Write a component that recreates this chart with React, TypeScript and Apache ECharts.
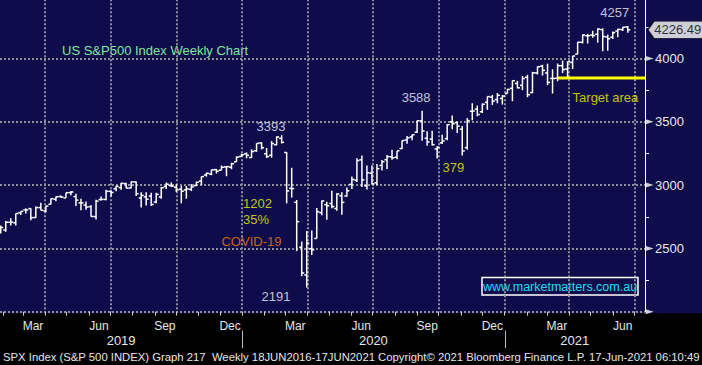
import React, { useEffect, useRef } from 'react';
import * as echarts from 'echarts';

// ---- Weekly OHLC (S&P 500), week-ending Friday ----
const WEEK_ENDING = [
  '2019-01-25','2019-02-01','2019-02-08','2019-02-15','2019-02-22','2019-03-01','2019-03-08','2019-03-15','2019-03-22','2019-03-29',
  '2019-04-05','2019-04-12','2019-04-19','2019-04-26','2019-05-03','2019-05-10','2019-05-17','2019-05-24','2019-05-31','2019-06-07',
  '2019-06-14','2019-06-21','2019-06-28','2019-07-05','2019-07-12','2019-07-19','2019-07-26','2019-08-02','2019-08-09','2019-08-16',
  '2019-08-23','2019-08-30','2019-09-06','2019-09-13','2019-09-20','2019-09-27','2019-10-04','2019-10-11','2019-10-18','2019-10-25',
  '2019-11-01','2019-11-08','2019-11-15','2019-11-22','2019-11-29','2019-12-06','2019-12-13','2019-12-20','2019-12-27','2020-01-03',
  '2020-01-10','2020-01-17','2020-01-24','2020-01-31','2020-02-07','2020-02-14','2020-02-21','2020-02-28','2020-03-06','2020-03-13',
  '2020-03-20','2020-03-27','2020-04-03','2020-04-10','2020-04-17','2020-04-24','2020-05-01','2020-05-08','2020-05-15','2020-05-22',
  '2020-05-29','2020-06-05','2020-06-12','2020-06-19','2020-06-26','2020-07-03','2020-07-10','2020-07-17','2020-07-24','2020-07-31',
  '2020-08-07','2020-08-14','2020-08-21','2020-08-28','2020-09-04','2020-09-11','2020-09-18','2020-09-25','2020-10-02','2020-10-09',
  '2020-10-16','2020-10-23','2020-10-30','2020-11-06','2020-11-13','2020-11-20','2020-11-27','2020-12-04','2020-12-11','2020-12-18',
  '2020-12-25','2021-01-01','2021-01-08','2021-01-15','2021-01-22','2021-01-29','2021-02-05','2021-02-12','2021-02-19','2021-02-26',
  '2021-03-05','2021-03-12','2021-03-19','2021-03-26','2021-04-02','2021-04-09','2021-04-16','2021-04-23','2021-04-30','2021-05-07',
  '2021-05-14','2021-05-21','2021-05-28','2021-06-04','2021-06-11','2021-06-18',
];
const OPEN = [
  2657.9,2644.9,2706.5,2702.0,2780.7,2804.4,2814.4,2743.7,2822.6,2796.0,
  2848.6,2888.3,2909.9,2898.8,2940.6,2908.9,2859.3,2841.9,2830.0,2751.5,
  2885.8,2886.8,2951.4,2971.4,2979.8,3012.1,2977.0,3024.5,2898.1,2907.1,
  2913.5,2866.7,2906.3,2988.4,2996.4,2983.5,2967.1,2962.3,2966.2,2996.5,
  3032.1,3079.0,3087.0,3122.0,3117.4,3143.9,3141.9,3183.6,3226.1,3247.2,
  3217.6,3271.1,3333.1,3247.2,3235.7,3318.3,3369.0,3257.6,2974.3,2863.9,
  2508.6,2290.7,2498.1,2578.3,2782.5,2845.6,2854.7,2815.0,2915.5,2914.0,
  3005.7,3038.8,3199.9,2993.8,3094.4,3018.6,3155.3,3200.5,3224.3,3219.8,
  3288.3,3356.0,3380.9,3418.1,3507.4,3369.8,3363.6,3285.6,3333.9,3367.3,
  3500.0,3493.5,3441.4,3296.2,3583.0,3600.2,3579.3,3653.8,3694.7,3675.3,
  3684.3,3723.0,3764.6,3803.1,3788.0,3851.7,3731.2,3885.6,3939.6,3885.6,
  3842.5,3844.4,3943.0,3916.5,3969.3,4034.4,4128.0,4179.8,4185.1,4192.0,
  4228.3,4169.9,4168.6,4216.5,4228.6,4248.9,
];
const HIGH = [
  2681.8,2716.7,2738.0,2775.7,2794.2,2816.9,2816.9,2830.7,2860.3,2836.0,
  2893.4,2910.5,2918.0,2940.0,2954.1,2931.3,2892.2,2871.0,2840.5,2884.9,
  2910.6,2964.2,2960.0,2995.8,3017.8,3018.8,3028.0,3028.0,2943.3,2943.3,
  2939.1,2940.4,2985.9,3021.0,3022.0,3008.0,2993.3,2993.3,3008.3,3027.4,
  3066.9,3097.8,3120.5,3127.6,3154.3,3150.6,3176.3,3225.6,3247.9,3258.1,
  3282.0,3329.9,3337.8,3293.0,3348.0,3385.1,3393.5,3259.8,3136.7,2882.6,
  2553.9,2637.0,2641.4,2818.6,2879.2,2869.0,2954.9,2934.9,2944.3,2980.3,
  3068.7,3211.7,3233.1,3155.5,3154.9,3165.8,3198.6,3238.3,3279.3,3272.0,
  3352.5,3387.9,3400.0,3509.4,3588.1,3425.6,3428.9,3306.9,3397.2,3482.3,
  3549.9,3502.4,3466.5,3529.1,3646.0,3628.5,3645.1,3699.2,3712.4,3726.7,
  3711.2,3760.2,3826.7,3823.6,3861.5,3870.9,3894.6,3937.2,3950.4,3959.0,
  3915.0,3960.3,3983.9,3978.2,4020.6,4129.5,4191.3,4194.2,4218.8,4238.0,
  4238.0,4188.7,4213.4,4234.1,4249.7,4257.2,
];
const LOW = [
  2617.3,2631.6,2681.8,2681.8,2764.6,2775.1,2722.3,2741.3,2800.4,2785.0,
  2848.6,2873.3,2898.8,2898.2,2919.6,2835.0,2801.4,2805.5,2750.5,2728.8,
  2878.0,2880.0,2910.0,2952.2,2963.4,2975.0,2975.0,2914.1,2822.1,2839.6,
  2835.0,2856.0,2891.9,2969.4,2985.2,2946.0,2856.0,2892.7,2952.9,2991.6,
  3000.0,3066.9,3077.6,3091.4,3117.4,3070.3,3125.0,3183.6,3223.4,3211.5,
  3214.6,3263.6,3281.5,3214.6,3216.9,3315.2,3328.5,2855.8,2901.5,2478.9,
  2280.5,2191.9,2447.5,2578.3,2761.5,2727.1,2816.8,2797.9,2766.6,2908.0,
  2969.8,3025.2,2984.5,2965.7,3004.6,3000.7,3115.3,3127.7,3200.8,3204.1,
  3284.5,3327.0,3354.7,3410.9,3349.6,3310.5,3313.5,3209.5,3323.9,3354.7,
  3441.4,3412.0,3233.9,3279.7,3511.9,3543.8,3569.7,3594.4,3633.4,3645.8,
  3636.5,3723.0,3662.7,3764.2,3749.6,3694.1,3725.6,3874.5,3865.0,3789.5,
  3723.3,3820.0,3885.6,3853.5,3917.1,4034.4,4118.4,4118.6,4164.0,4125.0,
  4056.9,4061.4,4154.3,4167.6,4217.7,4202.5,
];
const CLOSE = [
  2664.8,2706.5,2707.9,2775.6,2792.7,2803.7,2743.1,2822.5,2800.7,2834.4,
  2892.7,2907.4,2905.0,2939.9,2945.6,2881.4,2859.5,2826.1,2752.1,2873.3,
  2887.0,2950.5,2941.8,2990.4,3013.8,2976.6,3025.9,2932.1,2918.7,2888.7,
  2847.1,2926.5,2978.7,3007.4,2992.1,2961.8,2952.0,2970.3,2986.2,3022.6,
  3066.9,3093.1,3120.5,3110.3,3141.0,3145.9,3168.8,3221.2,3240.0,3234.9,
  3265.4,3329.6,3295.5,3225.5,3327.7,3380.2,3337.8,2954.2,2972.4,2711.0,
  2304.9,2541.5,2488.7,2789.8,2874.6,2836.7,2830.7,2929.8,2863.7,2955.5,
  3044.3,3193.9,3041.3,3097.7,3009.1,3130.0,3185.0,3224.7,3215.6,3271.1,
  3351.3,3372.9,3397.2,3508.0,3427.0,3341.0,3319.5,3298.5,3348.4,3477.1,
  3483.8,3465.4,3270.0,3509.4,3585.2,3557.5,3638.4,3699.1,3663.5,3709.4,
  3703.1,3756.1,3824.7,3768.3,3841.5,3714.2,3886.8,3934.8,3906.7,3811.2,
  3841.9,3943.3,3913.1,3974.5,4019.9,4128.8,4185.5,4180.2,4181.2,4232.6,
  4173.9,4155.9,4204.1,4229.9,4247.4,4226.49,
];

const Y_TICKS = [2000, 2500, 3000, 3500, 4000];
const MONTH_NAMES = ['Jan','Feb','Mar','Apr','May','Jun','Jul','Aug','Sep','Oct','Nov','Dec'];
const TARGET_LEVEL = 3845;
const TARGET_FROM = '2021-03-12';
const TITLE = 'US S&P500 Index Weekly Chart';
const WATERMARK = 'www.marketmatters.com.au';
const FOOTER = 'SPX Index (S&P 500 INDEX) Graph 217  Weekly 18JUN2016-17JUN2021 Copyright\u00A9 2021 Bloomberg Finance L.P. 17-Jun-2021 06:10:49';

const FONT = "'Liberation Sans', Arial, sans-serif";
const NAVY = '#0e0c4a';
const GRID_C = '#8e8e9c';
const DAY = 86400000;
const ts = (s: string) => { const [y, m, d] = s.split('-').map(Number); return Date.UTC(y, m - 1, d); };
const AXIS_START = ts('2019-01-28');
const AXIS_END = ts('2021-07-16');
const BAR_SHIFT = 4 * DAY; // weekly bars are drawn at the end of their period

const monthStarts: number[] = [];
const quarterStarts: number[] = [];
const monthLabelVals: number[] = [];
for (let y = 2019; y <= 2021; y++) {
  for (let m = 0; m < 12; m++) {
    const t = Date.UTC(y, m, 1);
    if (t > AXIS_START && t < AXIS_END) {
      monthStarts.push(t);
      if (m % 3 === 0) quarterStarts.push(t);
    }
    const mid = Date.UTC(y, m, 15);
    if (m % 3 === 2 && mid > AXIS_START && mid < AXIS_END) monthLabelVals.push(mid);
  }
}
const yearStarts = [2020, 2021].map((y) => Date.UTC(y, 0, 1));
const yearMids = [2019, 2020, 2021].map((y) => {
  const a = Math.max(Date.UTC(y, 0, 1), AXIS_START);
  const b = Math.min(Date.UTC(y + 1, 0, 1), AXIS_END);
  return (a + b) / 2;
});

export default function App() {
  const ref = useRef<HTMLDivElement>(null);
  useEffect(() => {
    if (!ref.current) return;
    const chart = echarts.init(ref.current, undefined, { renderer: 'svg' });
    const times = WEEK_ENDING.map((d) => ts(d) + BAR_SHIFT);
    const bars = times.map((t, i) => [t, OPEN[i], HIGH[i], LOW[i], CLOSE[i]]);

    const idxWhere = (pred: (i: number) => boolean, arr: number[], better: (a: number, b: number) => boolean) => {
      let best = -1;
      for (let i = 0; i < arr.length; i++) if (pred(i) && (best < 0 || better(arr[i], arr[best]))) best = i;
      return best;
    };
    const tsOf = (i: number) => ts(WEEK_ENDING[i]);
    const iTop = idxWhere(() => true, HIGH, (a, b) => a > b);
    const iPeak = idxWhere((i) => tsOf(i) < ts('2020-03-01'), HIGH, (a, b) => a > b);
    const iTrough = idxWhere(() => true, LOW, (a, b) => a < b);
    const iSep = idxWhere((i) => tsOf(i) > ts('2020-07-01') && tsOf(i) < ts('2020-10-31'), HIGH, (a, b) => a > b);
    const iDip = idxWhere((i) => tsOf(i) > ts('2020-09-05') && tsOf(i) < ts('2020-10-10'), LOW, (a, b) => a < b);
    const fl = Math.floor;
    const drop = fl(HIGH[iPeak]) - fl(LOW[iTrough]);
    const pct = Math.round((drop / fl(HIGH[iPeak])) * 100);
    const pull = fl(HIGH[iSep]) - fl(LOW[iDip]);

    const WHITE_T = '#eef2ff';
    const YEL = '#f4f400';
    const ann = (value: number[], text: string, color: string, offset: number[], align = 'center') => ({
      value,
      label: { show: true, formatter: text, color, offset, align, verticalAlign: 'middle', position: 'inside', fontSize: 13, fontFamily: FONT },
    });
    const annotations = [
      ann([times[iTop], HIGH[iTop]], String(fl(HIGH[iTop])), WHITE_T, [-13, -13]),
      ann([times[iSep], HIGH[iSep]], String(fl(HIGH[iSep])), WHITE_T, [-6, -13.6]),
      ann([times[iPeak], HIGH[iPeak]], String(fl(HIGH[iPeak])), WHITE_T, [-10.6, -8.3]),
      ann([times[iTrough], LOW[iTrough]], String(fl(LOW[iTrough])), WHITE_T, [-30.7, 8.6]),
      ann([times[iPeak], HIGH[iPeak]], String(drop), YEL, [-38.6, 68.7], 'left'),
      ann([times[iPeak], HIGH[iPeak]], pct + '%', YEL, [-38.6, 84.7], 'left'),
      ann([times[iPeak], HIGH[iPeak]], 'COVID-19', '#f07c10', [-30.2, 106.7]),
      ann([times[iDip], LOW[iDip]], String(pull), YEL, [16.3, 9.4]),
      ann([ts(TARGET_FROM) + BAR_SHIFT, TARGET_LEVEL], 'Target area', YEL, [15, 19], 'left'),
    ];

    const lastClose = CLOSE[CLOSE.length - 1];
    const dotted = { color: GRID_C, type: [2, 2] as any, width: 2 };

    const xBase = { type: 'value', min: AXIS_START, max: AXIS_END, position: 'bottom', gridIndex: 0 };

    chart.setOption({
      animation: false,
      backgroundColor: '#000000',
      grid: { left: 0, right: 57, top: -4.8, bottom: 53.3, containLabel: false, outerBoundsMode: 'none' },
      xAxis: [
        {
          ...xBase,
          axisLine: { show: false },
          axisTick: { show: true, customValues: monthStarts, length: 4, lineStyle: { color: '#d0d0d0', width: 1 } },
          axisLabel: {
            show: true, customValues: monthLabelVals, margin: 8, color: '#e6e6e6', fontSize: 12, fontFamily: FONT,
            formatter: (v: number) => MONTH_NAMES[new Date(v).getUTCMonth()],
          },
          splitLine: { show: false },
        },
        {
          ...xBase,
          axisLine: { show: false },
          axisTick: { show: false, customValues: quarterStarts },
          axisLabel: { show: false },
          splitLine: { show: true, lineStyle: dotted },
        },
        {
          ...xBase,
          offset: 18.3,
          axisLine: { show: false },
          axisTick: { show: false },
          axisLabel: {
            show: true, customValues: yearMids, margin: 4, color: '#e6e6e6', fontSize: 13, fontFamily: FONT,
            formatter: (v: number) => String(new Date(v).getUTCFullYear()),
          },
          splitLine: { show: false },
        },
      ],
      yAxis: {
        type: 'value', position: 'right', min: 2000, max: 4500, interval: 500,
        axisLine: { show: true, lineStyle: { color: '#ffffff', width: 1 } },
        axisTick: { show: false },
        minorTick: { show: true, splitNumber: 2, length: 4, lineStyle: { color: '#ffffff', width: 1 } },
        axisLabel: {
          color: '#e8e8f4', fontSize: 13, fontFamily: FONT, margin: 10,
          formatter: (v: number) => (Y_TICKS.indexOf(v) > 0 ? String(v) : ''),
        },
        splitLine: { show: true, lineStyle: dotted },
      },
      graphic: [
        { id: 'bg', type: 'rect', z: -10, silent: true, shape: { x: 0, y: 0, width: 702, height: 313.3 }, style: { fill: NAVY } },
        { id: 'title', type: 'text', x: 62, y: 50, silent: true, style: { text: TITLE, fill: '#7ee89a', fontSize: 13, fontFamily: FONT, verticalAlign: 'middle' } },
        { id: 'wmBox', type: 'rect', silent: true, shape: { x: 482, y: 277.5, width: 156, height: 17.5 }, style: { fill: 'none', stroke: '#ffffff', lineWidth: 1.5 } },
        { id: 'wmText', type: 'text', x: 560, y: 286.5, silent: true, style: { text: WATERMARK, fill: '#20dcf0', fontSize: 12.5, fontFamily: FONT, align: 'center', verticalAlign: 'middle' } },
        { id: 'footer', type: 'text', x: 3, y: 357, silent: true, style: { text: FOOTER, fill: '#e6e6e6', fontSize: 11.3, fontFamily: FONT, verticalAlign: 'middle' } },
      ],
      series: [
        {
          type: 'custom',
          name: 'SPX',
          xAxisIndex: 0,
          yAxisIndex: 0,
          clip: true,
          encode: { x: 0, y: [1, 2, 3, 4] },
          data: bars,
          renderItem: (params: any, api: any) => {
            const t = api.value(0);
            const [x, yO] = api.coord([t, api.value(1)]);
            const yH = api.coord([t, api.value(2)])[1];
            const yL = api.coord([t, api.value(3)])[1];
            const yC = api.coord([t, api.value(4)])[1];
            const st = { stroke: '#ffffff', lineWidth: 1.5 };
            const w = 2.5;
            return {
              type: 'group',
              children: [
                { type: 'line', shape: { x1: x, y1: yH, x2: x, y2: yL }, style: st },
                { type: 'line', shape: { x1: x - w, y1: yO, x2: x, y2: yO }, style: st },
                { type: 'line', shape: { x1: x, y1: yC, x2: x + w, y2: yC }, style: st },
              ],
            };
          },
        },
        {
          // year separators in the axis band below the plot
          type: 'custom',
          name: 'yearSeparators',
          xAxisIndex: 0,
          yAxisIndex: 0,
          clip: false,
          silent: true,
          encode: { x: 0, y: 1 },
          data: yearStarts.map((t) => [t, Y_TICKS[0]]),
          renderItem: (params: any, api: any) => {
            const [x, y0] = api.coord([api.value(0), api.value(1)]);
            const xr = Math.round(x) + 0.5;
            return {
              type: 'line',
              shape: { x1: xr, y1: y0 + 19, x2: xr, y2: y0 + 36.5 },
              style: { stroke: '#bcbcbc', lineWidth: 1 },
            };
          },
        },
        {
          type: 'line',
          name: 'Target',
          xAxisIndex: 0,
          data: [[ts(TARGET_FROM) + BAR_SHIFT, TARGET_LEVEL], [AXIS_END, TARGET_LEVEL]],
          symbol: 'none',
          lineStyle: { color: '#ffff00', width: 3 },
          silent: true,
          z: 3,
        },
        {
          type: 'scatter',
          name: 'axisMarks',
          xAxisIndex: 0,
          clip: false,
          silent: true,
          data: Y_TICKS.map((v) => [AXIS_END, v]),
          symbol: 'path://M0,0L8,2.5L0,5Z',
          symbolSize: [8, 5],
          symbolKeepAspect: false,
          symbolOffset: [4.7, 0],
          itemStyle: { color: '#ffffff' },
        },
        {
          type: 'scatter',
          name: 'lastPrice',
          xAxisIndex: 0,
          clip: false,
          silent: true,
          z: 5,
          data: [[AXIS_END, lastClose]],
          symbol: 'path://M0,8.5L6,0L56,0L56,17L6,17Z',
          symbolSize: [56, 17],
          symbolKeepAspect: false,
          symbolOffset: [30.7, 0],
          itemStyle: { color: '#ffffff', borderColor: '#000000', borderWidth: 1 },
          label: {
            show: true, position: 'inside', offset: [2, 0], color: '#000000', fontSize: 13, fontFamily: FONT,
            formatter: () => lastClose.toFixed(2),
          },
        },
        {
          type: 'scatter',
          name: 'annotations',
          xAxisIndex: 0,
          clip: false,
          silent: true,
          z: 6,
          symbolSize: 1,
          itemStyle: { color: 'rgba(0,0,0,0)' },
          data: annotations,
        },
      ],
    });

    return () => chart.dispose();
  }, []);
  return <div ref={ref} style={{ position: 'fixed', left: 0, top: 0, width: 702, height: 365 }} />;
}
